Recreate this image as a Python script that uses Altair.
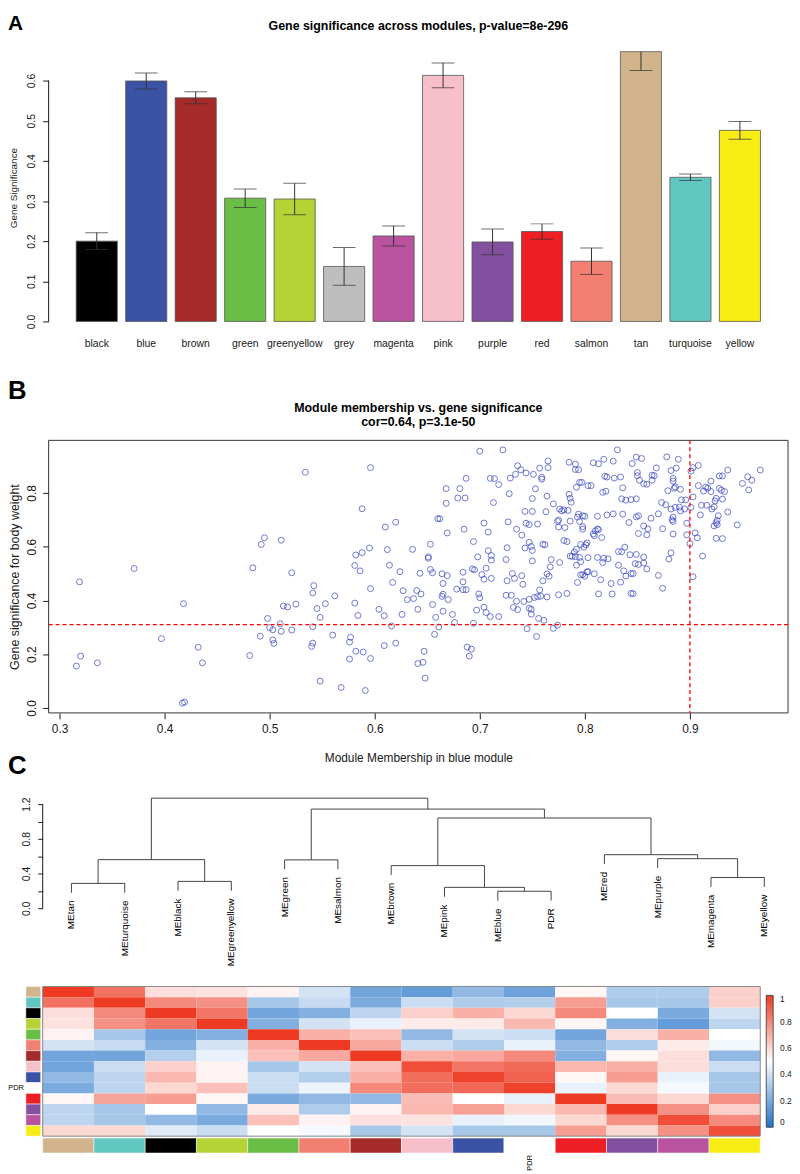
import altair as alt
import pandas as pd

FONT = "Liberation Sans"
INK = "#1a1a1a"

# ---------------- Panel A : gene significance per module ----------------
modules = ["black", "blue", "brown", "green", "greenyellow", "grey", "magenta",
           "pink", "purple", "red", "salmon", "tan", "turquoise", "yellow"]
module_colors = ["#000000", "#3a53a4", "#a52a2a", "#6abd45", "#b5d334", "#bebebe", "#b9529f",
                 "#f7bfca", "#834f9f", "#ed1f24", "#f37f73", "#d2b48c", "#63c7c1", "#f7ec13"]
gs_mean = [0.200, 0.599, 0.557, 0.307, 0.305, 0.137, 0.213,
           0.613, 0.198, 0.224, 0.150, 0.672, 0.359, 0.476]
gs_err = [0.021, 0.020, 0.015, 0.023, 0.039, 0.047, 0.025,
          0.031, 0.032, 0.019, 0.033, 0.047, 0.008, 0.022]
title_a = "Gene significance across modules, p-value=8e-296"

# ---------------- Panel B : MM vs GS scatter ----------------
scatter_points = [
    (0.319, 0.469), (0.320, 0.193), (0.316, 0.156), (0.336, 0.168), (0.371, 0.519), (0.397, 0.258),
    (0.418, 0.388), (0.432, 0.226), (0.436, 0.168), (0.417, 0.018), (0.419, 0.022),
    (0.700, 0.955), (0.722, 0.960), (0.534, 0.877), (0.596, 0.894), (0.736, 0.901), (0.739, 0.886),
    (0.734, 0.869), (0.744, 0.874), (0.729, 0.855), (0.710, 0.854), (0.714, 0.853), (0.687, 0.854),
    (0.718, 0.831), (0.668, 0.816), (0.681, 0.816), (0.728, 0.797), (0.679, 0.781), (0.686, 0.781),
    (0.668, 0.761), (0.713, 0.764), (0.588, 0.741), (0.743, 0.731), (0.660, 0.704), (0.662, 0.704),
    (0.704, 0.688), (0.727, 0.692), (0.744, 0.687), (0.747, 0.682), (0.620, 0.691), (0.610, 0.673),
    (0.685, 0.665), (0.735, 0.665), (0.708, 0.654), (0.669, 0.651), (0.740, 0.643), (0.492, 0.608),
    (0.495, 0.633), (0.511, 0.624), (0.653, 0.609), (0.694, 0.619), (0.747, 0.616), (0.743, 0.595),
    (0.726, 0.596), (0.595, 0.595), (0.612, 0.589), (0.636, 0.590), (0.582, 0.569), (0.588, 0.578),
    (0.708, 0.585), (0.651, 0.562), (0.651, 0.557), (0.698, 0.562), (0.711, 0.567), (0.711, 0.550),
    (0.725, 0.552), (0.484, 0.521), (0.581, 0.530), (0.586, 0.510), (0.614, 0.531), (0.521, 0.503),
    (0.624, 0.507), (0.653, 0.515), (0.643, 0.501), (0.655, 0.503), (0.664, 0.499), (0.669, 0.492),
    (0.684, 0.505), (0.693, 0.517), (0.695, 0.514), (0.702, 0.496), (0.706, 0.520), (0.731, 0.500),
    (0.740, 0.492), (0.704, 0.479), (0.711, 0.482), (0.726, 0.473), (0.733, 0.482), (0.741, 0.460),
    (0.617, 0.467), (0.665, 0.463), (0.542, 0.455), (0.541, 0.428), (0.596, 0.444), (0.627, 0.436),
    (0.640, 0.437), (0.644, 0.424), (0.678, 0.442), (0.684, 0.440), (0.687, 0.440), (0.684, 0.469),
    (0.664, 0.415), (0.665, 0.423), (0.670, 0.403), (0.699, 0.424), (0.700, 0.410), (0.725, 0.419),
    (0.730, 0.419), (0.562, 0.417), (0.553, 0.388), (0.525, 0.386), (0.513, 0.379), (0.517, 0.376),
    (0.581, 0.390), (0.545, 0.370), (0.631, 0.403), (0.637, 0.407), (0.655, 0.385), (0.604, 0.367),
    (0.641, 0.367), (0.665, 0.360), (0.674, 0.348), (0.697, 0.364), (0.704, 0.375), (0.706, 0.355),
    (0.710, 0.340), (0.718, 0.340), (0.732, 0.374), (0.736, 0.366), (0.735, 0.397), (0.742, 0.396),
    (0.747, 0.404), (0.747, 0.371), (0.584, 0.344), (0.609, 0.343), (0.626, 0.348), (0.658, 0.337),
    (0.548, 0.337), (0.498, 0.333), (0.510, 0.313), (0.500, 0.299), (0.503, 0.291), (0.511, 0.285),
    (0.521, 0.290), (0.541, 0.302), (0.616, 0.305), (0.661, 0.301), (0.676, 0.318), (0.694, 0.315),
    (0.745, 0.295), (0.491, 0.267), (0.560, 0.271), (0.577, 0.263), (0.657, 0.274), (0.503, 0.253),
    (0.504, 0.240), (0.540, 0.229), (0.541, 0.241), (0.576, 0.245), (0.609, 0.232), (0.620, 0.241),
    (0.688, 0.226), (0.692, 0.219), (0.690, 0.193), (0.647, 0.211), (0.582, 0.211), (0.589, 0.208),
    (0.481, 0.195), (0.576, 0.182), (0.596, 0.184), (0.641, 0.165), (0.646, 0.170), (0.648, 0.111),
    (0.548, 0.100), (0.568, 0.076), (0.591, 0.065),
    (0.831, 0.960), (0.765, 0.919), (0.785, 0.914), (0.791, 0.907), (0.808, 0.912), (0.813, 0.908),
    (0.818, 0.925), (0.827, 0.918), (0.849, 0.933), (0.854, 0.928), (0.878, 0.934), (0.889, 0.925),
    (0.757, 0.892), (0.765, 0.894), (0.791, 0.887), (0.794, 0.886), (0.751, 0.869), (0.759, 0.858),
    (0.759, 0.851), (0.819, 0.862), (0.821, 0.859), (0.828, 0.855), (0.834, 0.859), (0.850, 0.876),
    (0.850, 0.864), (0.864, 0.866), (0.866, 0.864), (0.868, 0.893), (0.845, 0.909), (0.882, 0.883),
    (0.887, 0.892), (0.903, 0.894), (0.908, 0.902), (0.936, 0.885), (0.928, 0.863), (0.931, 0.863),
    (0.920, 0.844), (0.950, 0.835), (0.955, 0.860), (0.959, 0.847), (0.967, 0.885), (0.901, 0.881),
    (0.884, 0.854), (0.795, 0.839), (0.797, 0.839), (0.803, 0.827), (0.806, 0.827), (0.792, 0.821),
    (0.836, 0.819), (0.852, 0.847), (0.856, 0.834), (0.859, 0.832), (0.864, 0.847), (0.879, 0.808),
    (0.884, 0.844), (0.886, 0.822), (0.891, 0.813), (0.885, 0.817), (0.908, 0.827), (0.915, 0.822),
    (0.917, 0.818), (0.913, 0.807), (0.928, 0.817), (0.930, 0.810), (0.933, 0.805), (0.920, 0.805),
    (0.956, 0.811), (0.753, 0.815), (0.764, 0.788), (0.750, 0.779), (0.785, 0.795), (0.786, 0.780),
    (0.787, 0.765), (0.820, 0.806), (0.817, 0.802), (0.835, 0.778), (0.839, 0.773), (0.844, 0.775),
    (0.849, 0.778), (0.873, 0.764), (0.877, 0.756), (0.892, 0.774), (0.896, 0.774), (0.890, 0.747),
    (0.882, 0.740), (0.886, 0.746), (0.895, 0.740), (0.901, 0.746), (0.903, 0.785), (0.911, 0.754),
    (0.916, 0.754), (0.921, 0.740), (0.923, 0.748), (0.924, 0.770), (0.925, 0.780), (0.931, 0.777),
    (0.770, 0.759), (0.776, 0.740), (0.778, 0.733), (0.780, 0.737), (0.763, 0.730), (0.750, 0.731),
    (0.794, 0.721), (0.798, 0.715), (0.800, 0.713), (0.795, 0.694), (0.812, 0.713), (0.821, 0.718),
    (0.827, 0.722), (0.836, 0.721), (0.849, 0.711), (0.851, 0.715), (0.863, 0.706), (0.870, 0.722),
    (0.884, 0.710), (0.891, 0.733), (0.910, 0.718), (0.927, 0.715), (0.936, 0.729), (0.926, 0.698),
    (0.925, 0.689), (0.926, 0.682), (0.923, 0.677), (0.945, 0.681), (0.897, 0.687), (0.883, 0.700),
    (0.884, 0.694), (0.755, 0.684), (0.774, 0.694), (0.775, 0.699), (0.775, 0.673), (0.781, 0.671),
    (0.786, 0.695), (0.793, 0.710), (0.784, 0.735), (0.798, 0.665), (0.798, 0.674), (0.808, 0.647),
    (0.810, 0.659), (0.812, 0.666), (0.813, 0.663), (0.809, 0.641), (0.816, 0.634), (0.842, 0.690),
    (0.856, 0.677), (0.860, 0.666), (0.851, 0.649), (0.859, 0.644), (0.874, 0.667), (0.884, 0.647),
    (0.897, 0.644), (0.900, 0.611), (0.905, 0.651), (0.907, 0.633), (0.925, 0.631), (0.931, 0.630),
    (0.760, 0.609), (0.762, 0.607), (0.780, 0.623), (0.783, 0.619), (0.796, 0.608), (0.802, 0.614),
    (0.801, 0.607), (0.799, 0.598), (0.790, 0.580), (0.792, 0.590), (0.795, 0.560), (0.791, 0.563),
    (0.786, 0.565), (0.788, 0.564), (0.776, 0.541), (0.749, 0.601), (0.750, 0.586), (0.750, 0.547),
    (0.768, 0.552), (0.767, 0.525), (0.764, 0.499), (0.766, 0.490), (0.760, 0.473), (0.792, 0.531),
    (0.796, 0.544), (0.803, 0.559), (0.812, 0.560), (0.817, 0.541), (0.818, 0.557), (0.822, 0.555),
    (0.832, 0.582), (0.835, 0.581), (0.838, 0.598), (0.832, 0.531), (0.843, 0.570), (0.849, 0.571),
    (0.856, 0.561), (0.856, 0.539), (0.848, 0.537), (0.851, 0.534), (0.859, 0.517), (0.870, 0.493),
    (0.880, 0.554), (0.882, 0.577), (0.912, 0.565), (0.844, 0.500), (0.839, 0.491), (0.846, 0.500),
    (0.837, 0.510), (0.834, 0.468), (0.825, 0.463), (0.815, 0.477), (0.809, 0.499), (0.803, 0.507),
    (0.800, 0.490), (0.802, 0.506), (0.798, 0.496), (0.796, 0.495), (0.793, 0.467), (0.783, 0.426),
    (0.775, 0.421), (0.813, 0.424), (0.826, 0.424), (0.844, 0.426), (0.846, 0.425), (0.874, 0.445),
    (0.903, 0.488), (0.757, 0.439), (0.755, 0.414), (0.752, 0.411), (0.758, 0.416), (0.764, 0.413),
    (0.749, 0.367), (0.749, 0.349), (0.756, 0.333), (0.761, 0.326), (0.774, 0.308), (0.770, 0.296),
    (0.754, 0.266),
]
mm_values = [p[0] for p in scatter_points]
gs_values = [p[1] for p in scatter_points]
gs_threshold = 0.31
mm_threshold = 0.9
title_b1 = "Module membership vs. gene significance"
title_b2 = "cor=0.64, p=3.1e-50"

# ---------------- Panel C : eigengene dendrogram + adjacency heatmap ----------------
leaves = ["MEtan", "MEturquoise", "MEblack", "MEgreenyellow", "MEgreen", "MEsalmon", "MEbrown",
          "MEpink", "MEblue", "PDR", "MEred", "MEpurple", "MEmagenta", "MEyellow"]
merge_left = ["MEblue", "MEpink", "MEbrown", "MEmagenta", "MEpurple", "MEred", "m3",
              "MEgreen", "m8", "MEtan", "MEblack", "m10", "m12"]
merge_right = ["PDR", "m1", "m2", "MEyellow", "m4", "m5", "m6",
               "MEsalmon", "m7", "MEturquoise", "MEgreenyellow", "m11", "m9"]
merge_height = [0.195, 0.240, 0.491, 0.354, 0.571, 0.617, 1.040,
                0.557, 1.143, 0.286, 0.309, 0.560, 1.269]

heat_names = ["tan", "turquoise", "black", "greenyellow", "green", "salmon", "brown",
              "pink", "blue", "PDR", "red", "purple", "magenta", "yellow"]
heat_side_colors = ["#d2b48c", "#63c7c1", "#000000", "#b5d334", "#6abd45", "#f37f73", "#a52a2a",
                    "#f7bfca", "#3a53a4", "#ffffff", "#ed1f24", "#834f9f", "#b9529f", "#f7ec13"]
adj_tan = [1.00, 0.86, 0.58, 0.57, 0.53, 0.40, 0.18, 0.15, 0.25, 0.17, 0.52, 0.32, 0.32, 0.62]
adj_turquoise = [0.86, 1.00, 0.80, 0.78, 0.30, 0.37, 0.20, 0.38, 0.32, 0.33, 0.75, 0.30, 0.30, 0.62]
adj_black = [0.58, 0.80, 1.00, 0.85, 0.18, 0.22, 0.35, 0.62, 0.70, 0.60, 0.80, 0.50, 0.20, 0.40]
adj_greenyellow = [0.57, 0.78, 0.85, 1.00, 0.22, 0.40, 0.45, 0.55, 0.55, 0.68, 0.52, 0.22, 0.15, 0.35]
adj_green = [0.53, 0.30, 0.18, 0.22, 1.00, 0.70, 0.66, 0.25, 0.40, 0.38, 0.18, 0.58, 0.70, 0.50]
adj_salmon = [0.40, 0.37, 0.22, 0.40, 0.70, 1.00, 0.72, 0.38, 0.32, 0.45, 0.25, 0.32, 0.55, 0.47]
adj_brown = [0.18, 0.18, 0.33, 0.45, 0.66, 0.72, 1.00, 0.70, 0.72, 0.80, 0.22, 0.52, 0.58, 0.25]
adj_pink = [0.18, 0.38, 0.62, 0.53, 0.30, 0.40, 0.66, 0.95, 0.85, 0.88, 0.68, 0.70, 0.58, 0.38]
adj_blue = [0.25, 0.35, 0.68, 0.53, 0.38, 0.33, 0.70, 0.87, 0.98, 0.90, 0.52, 0.75, 0.45, 0.30]
adj_pdr = [0.20, 0.35, 0.60, 0.66, 0.38, 0.46, 0.80, 0.87, 0.88, 0.98, 0.45, 0.60, 0.48, 0.30]
adj_red = [0.52, 0.73, 0.75, 0.52, 0.20, 0.25, 0.25, 0.67, 0.50, 0.45, 1.00, 0.67, 0.60, 0.78]
adj_purple = [0.35, 0.30, 0.50, 0.25, 0.55, 0.32, 0.53, 0.68, 0.74, 0.60, 0.68, 1.00, 0.78, 0.62]
adj_magenta = [0.35, 0.30, 0.25, 0.20, 0.66, 0.53, 0.58, 0.57, 0.45, 0.47, 0.60, 0.78, 0.95, 0.80]
adj_yellow = [0.60, 0.60, 0.43, 0.38, 0.50, 0.48, 0.30, 0.40, 0.30, 0.30, 0.75, 0.60, 0.78, 0.95]
adjacency = [adj_tan, adj_turquoise, adj_black, adj_greenyellow, adj_green, adj_salmon, adj_brown,
             adj_pink, adj_blue, adj_pdr, adj_red, adj_purple, adj_magenta, adj_yellow]

# ---------------- layout constants ----------------
W = 746
H_A, H_B, H_C, H_H = 313, 275, 118, 151
GAP = 79
HEAT_TOP = H_A + GAP + H_B + GAP + H_C + GAP   # heatmap origin relative to the top-level group


def label_chart(text, y, size):
    return alt.Chart(pd.DataFrame({"t": [text]})).mark_text(
        fontWeight="bold", fontSize=size, align="left", baseline="top", color="#000"
    ).encode(text="t:N", x=alt.value(-41), y=alt.value(y))


def title_chart(text, y):
    return alt.Chart(pd.DataFrame({"t": [text]})).mark_text(
        fontWeight="bold", fontSize=12.5, align="center", baseline="middle", color="#000"
    ).encode(text="t:N", x=alt.value(W / 2), y=alt.value(y))


# ---------------- Panel A chart ----------------
df_a = pd.DataFrame({
    "module": modules, "gs": gs_mean, "col": module_colors,
    "zero": [0.0] * len(modules),
    "lo": [m - e for m, e in zip(gs_mean, gs_err)],
    "hi": [m + e for m, e in zip(gs_mean, gs_err)],
})
x_a = alt.X("module:N", sort=modules,
            scale=alt.Scale(paddingInner=0.169, paddingOuter=0.557),
            axis=alt.Axis(title=None, labelAngle=0, domain=False, ticks=False,
                          labelPadding=17, labelBaseline="top", labelFontSize=10.5,
                          offset=-41, labelColor=INK))
y_scale_a = alt.Scale(domain=[-0.1012, 0.6716], nice=False, zero=False)
y_axis_a = alt.Axis(values=[0, 0.1, 0.2, 0.3, 0.4, 0.5, 0.6], format=".1f", domain=False,
                    tickSize=6, tickColor=INK, labelAngle=270, labelAlign="center",
                    labelBaseline="middle", labelPadding=11, labelFontSize=10.5, labelColor=INK,
                    title="Gene Significance", titleAngle=270, titleX=-35, titleY=137,
                    titleFontSize=10, titleFontWeight="normal", titleAlign="center",
                    titleBaseline="middle", titleColor=INK, grid=False)

base_a = alt.Chart(df_a)
bars = base_a.mark_bar(stroke="#555555", strokeWidth=0.8).encode(
    x=x_a, y=alt.Y("gs:Q", scale=y_scale_a, axis=y_axis_a), y2="zero:Q",
    color=alt.Color("col:N", scale=None))
err = base_a.mark_rule(color="#333333", strokeWidth=1, clip=True).encode(
    x=x_a, y=alt.Y("lo:Q", scale=y_scale_a, axis=y_axis_a), y2="hi:Q")
cap_hi = base_a.mark_tick(color="#333333", size=23, thickness=1, clip=True).encode(
    x=x_a, y=alt.Y("hi:Q", scale=y_scale_a, axis=y_axis_a))
cap_lo = base_a.mark_tick(color="#333333", size=23, thickness=1, clip=True).encode(
    x=x_a, y=alt.Y("lo:Q", scale=y_scale_a, axis=y_axis_a))
axis_line_a = alt.Chart(pd.DataFrame({"a": [0.0], "b": [0.6]})).mark_rule(color=INK).encode(
    x=alt.value(0), y=alt.Y("a:Q", scale=y_scale_a, axis=y_axis_a), y2="b:Q")

panel_a = alt.layer(
    bars, err, cap_hi, cap_lo, axis_line_a, title_chart(title_a, -26), label_chart("A", -39, 21)
).properties(width=W, height=H_A)

# ---------------- Panel B chart ----------------
df_b = pd.DataFrame({"mm": mm_values, "gsb": gs_values})
x_dom_b = [0.2896, 0.9934]
y_dom_b = [-0.0184, 0.9954]
x_scale_b = alt.Scale(domain=x_dom_b, nice=False, zero=False)
y_scale_b = alt.Scale(domain=y_dom_b, nice=False, zero=False)
x_axis_b = alt.Axis(values=[0.3, 0.4, 0.5, 0.6, 0.7, 0.8, 0.9], format=".1f", domain=False,
                    tickSize=6, tickColor=INK, labelPadding=5, labelFontSize=12,
                    labelColor=INK, grid=False, title="Module Membership in blue module",
                    titleFontSize=12, titleFontWeight="normal", titleY=45,
                    titleBaseline="middle", titleColor=INK)
y_axis_b = alt.Axis(values=[0, 0.2, 0.4, 0.6, 0.8], format=".1f", domain=False,
                    tickSize=6, tickColor=INK, labelAngle=270, labelAlign="center",
                    labelBaseline="middle", labelPadding=11, labelFontSize=12,
                    labelColor=INK, grid=False, title="Gene significance for body weight",
                    titleAngle=270, titleX=-34, titleY=137.5, titleFontSize=12.5,
                    titleFontWeight="normal", titleAlign="center", titleBaseline="middle",
                    titleColor=INK)
pts = alt.Chart(df_b).mark_point(shape="circle", filled=False, size=36, strokeWidth=1,
                                 color="#3040c0").encode(
    x=alt.X("mm:Q", scale=x_scale_b, axis=x_axis_b),
    y=alt.Y("gsb:Q", scale=y_scale_b, axis=y_axis_b))
frame_b = alt.Chart(pd.DataFrame({"x0": [x_dom_b[0]], "x1": [x_dom_b[1]],
                                  "y0": [y_dom_b[0]], "y1": [y_dom_b[1]]})).mark_rect(
    fillOpacity=0, stroke="#333333", strokeWidth=1).encode(
    x=alt.X("x0:Q", scale=x_scale_b, axis=x_axis_b), x2="x1:Q",
    y=alt.Y("y0:Q", scale=y_scale_b, axis=y_axis_b), y2="y1:Q")
hline = alt.Chart(pd.DataFrame({"g": [gs_threshold]})).mark_rule(
    color="#ff0000", strokeDash=[4, 3], strokeWidth=1.3).encode(
    y=alt.Y("g:Q", scale=y_scale_b, axis=y_axis_b))
vline = alt.Chart(pd.DataFrame({"m": [mm_threshold]})).mark_rule(
    color="#ff0000", strokeDash=[4, 3], strokeWidth=1.3).encode(
    x=alt.X("m:Q", scale=x_scale_b, axis=x_axis_b))

panel_b = alt.layer(
    frame_b, pts, hline, vline, title_chart(title_b1, -33), title_chart(title_b2, -18),
    label_chart("B", -63, 26)
).properties(width=W, height=H_B)

# ---------------- Panel C dendrogram ----------------
HANG = 0.108
leaf_pos = {name: i for i, name in enumerate(leaves)}
node_x, node_h, leaf_bottom = {}, {}, {}
segments = []
for k, (lc, rc, h) in enumerate(zip(merge_left, merge_right, merge_height), start=1):
    xs = []
    for child in (lc, rc):
        if child in leaf_pos:
            cx, ch = leaf_pos[child], h - HANG
            leaf_bottom[child] = ch
        else:
            cx, ch = node_x[child], node_h[child]
        segments.append({"x": cx, "x2": cx, "y": ch, "y2": h})
        xs.append(cx)
    segments.append({"x": xs[0], "x2": xs[1], "y": h, "y2": h})
    node_x[f"m{k}"] = (xs[0] + xs[1]) / 2
    node_h[f"m{k}"] = h
df_seg = pd.DataFrame(segments)
df_leaf = pd.DataFrame({"leaf": leaves, "x": [leaf_pos[n] for n in leaves],
                        "ylab": [leaf_bottom[n] - 0.09 for n in leaves]})

x_scale_c = alt.Scale(domain=[-0.4277, 13.446], nice=False, zero=False)
y_scale_c = alt.Scale(domain=[0, 1.349], nice=False, zero=False)
y_axis_c = alt.Axis(values=[0, 0.2, 0.4, 0.6, 0.8, 1.0, 1.2], domain=False, tickSize=5,
                    tickColor=INK, offset=6, labelAngle=270, labelAlign="center",
                    labelBaseline="middle", labelPadding=11, labelFontSize=10.5, labelColor=INK,
                    labelExpr="round(datum.value * 10) % 4 == 0 ? format(datum.value, '.1f') : ''",
                    title=None, grid=False)
seg = alt.Chart(df_seg).mark_rule(color="#444444", strokeWidth=1).encode(
    x=alt.X("x:Q", scale=x_scale_c, axis=None), x2="x2:Q",
    y=alt.Y("y:Q", scale=y_scale_c, axis=y_axis_c), y2="y2:Q")
leaf_text = alt.Chart(df_leaf).mark_text(angle=270, align="right", baseline="middle",
                                         fontSize=10, color="#000").encode(
    x=alt.X("x:Q", scale=x_scale_c, axis=None),
    y=alt.Y("ylab:Q", scale=y_scale_c, axis=y_axis_c), text="leaf:N")
axis_line_c = alt.Chart(pd.DataFrame({"a": [0.0], "b": [1.2]})).mark_rule(color=INK).encode(
    x=alt.value(-6), y=alt.Y("a:Q", scale=y_scale_c, axis=y_axis_c), y2="b:Q")

panel_c = alt.layer(seg, leaf_text, axis_line_c, label_chart("C", -38, 26)).properties(
    width=W, height=H_C)

# ---------------- Panel C heatmap ----------------
cells = []
for r, row in enumerate(adjacency):
    for c, v in enumerate(row):
        cells.append({"r": r, "r2": r + 1, "c": c, "c2": c + 1, "v": v})
df_cells = pd.DataFrame(cells)
df_side = pd.DataFrame({"i": list(range(14)), "i2": [i + 1 for i in range(14)],
                        "name": heat_names, "col": heat_side_colors})

x_scale_h = alt.Scale(domain=[0.116, 14.542], nice=False, zero=False)
y_scale_h = alt.Scale(domain=[0, 14], nice=False, zero=False, reverse=True)

heat = alt.Chart(df_cells).mark_rect(strokeWidth=0).encode(
    x=alt.X("c:Q", scale=x_scale_h, axis=None), x2="c2:Q",
    y=alt.Y("r:Q", scale=y_scale_h, axis=None), y2="r2:Q",
    color=alt.Color("v:Q",
                    scale=alt.Scale(domain=[0, 0.5, 1], range=["#2272c8", "#ffffff", "#ee3a23"],
                                    interpolate="rgb"),
                    legend=alt.Legend(orient="none", legendX=724, legendY=HEAT_TOP + 9,
                                      direction="vertical",
                                      gradientLength=133, gradientThickness=7, title=None,
                                      values=[0, 0.2, 0.4, 0.6, 0.8, 1], format=".1~f",
                                      labelFontSize=8.5, labelOffset=7, labelColor=INK,
                                      gradientStrokeColor="#333333", gradientStrokeWidth=0.8)))
border = alt.Chart(pd.DataFrame({"a": [0], "b": [14]})).mark_rect(
    fillOpacity=0, stroke="#888888", strokeWidth=1).encode(
    x=alt.X("a:Q", scale=x_scale_h, axis=None), x2="b:Q",
    y=alt.Y("a:Q", scale=y_scale_h, axis=None), y2="b:Q")
left_bar = alt.Chart(df_side).mark_rect(stroke="#ffffff", strokeWidth=0.5).encode(
    x=alt.value(-23), x2=alt.value(-8),
    y=alt.Y("i:Q", scale=y_scale_h, axis=None), y2="i2:Q",
    fill=alt.Fill("col:N", scale=None))
bottom_bar = alt.Chart(df_side).mark_rect(stroke="#ffffff", strokeWidth=0.5).encode(
    x=alt.X("i:Q", scale=x_scale_h, axis=None), x2="i2:Q",
    y=alt.value(153), y2=alt.value(168),
    fill=alt.Fill("col:N", scale=None))
df_pdr = pd.DataFrame({"t": ["PDR"], "p": [9.5]})
pdr_left = alt.Chart(df_pdr).mark_text(
    align="right", baseline="middle", fontSize=7.5, color="#000").encode(
    text="t:N", x=alt.value(-25), y=alt.Y("p:Q", scale=y_scale_h, axis=None))
pdr_bottom = alt.Chart(df_pdr).mark_text(
    angle=270, align="right", baseline="middle", fontSize=7.5, color="#000").encode(
    text="t:N", x=alt.X("p:Q", scale=x_scale_h, axis=None), y=alt.value(170))

panel_h = alt.layer(heat, border, left_bar, bottom_bar, pdr_left, pdr_bottom).properties(
    width=W, height=H_H)

chart = alt.vconcat(panel_a, panel_b, panel_c, panel_h, spacing=GAP, bounds="flush").properties(
    padding=0
).configure(font=FONT, background="white").configure_view(strokeWidth=0)

chart.save("out.html", embed_options={"renderer": "svg", "actions": False})
